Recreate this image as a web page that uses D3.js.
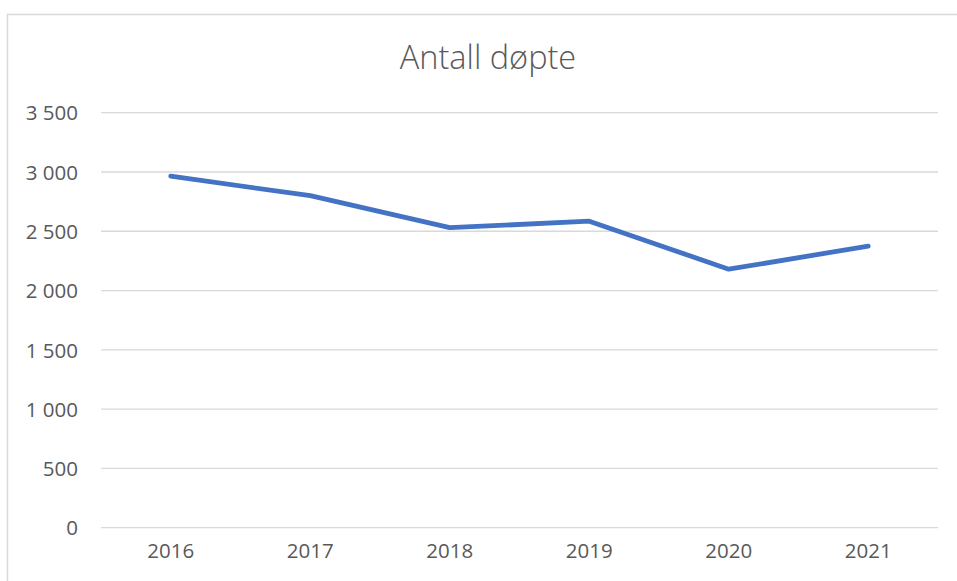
<!DOCTYPE html>
<html lang="no">
<head>
  <meta charset="UTF-8">
  <title>Antall døpte</title>
  <script src="https://d3js.org/d3.v7.min.js"></script>
  <style>
    body {
      margin: 0;
      background: #fff;
      font-family: "Open Sans", "Noto Sans", sans-serif;
    }
    .grid line {
      stroke: #d9d9d9;
      stroke-width: 1.3px;
    }
    .tick text {
      fill: #595959;
      font-size: 20.5px;
    }
  </style>
</head>
<body>
  <div id="chart"></div>
  <script>
    const years = ["2016", "2017", "2018", "2019", "2020", "2021"];
    const baptized = [2965, 2800, 2530, 2585, 2180, 2375];
    const yTicks = [0, 500, 1000, 1500, 2000, 2500, 3000, 3500];

    const width = 957, height = 581;
    const plot = { left: 101, right: 938, top: 112.7, bottom: 527.7 };

    const svg = d3.select("#chart")
      .append("svg")
      .attr("width", width)
      .attr("height", height);

    // chart frame (runs off the right and bottom edge in the original)
    svg.append("rect")
      .attr("x", 7.5)
      .attr("y", 14.5)
      .attr("width", 980)
      .attr("height", 600)
      .attr("fill", "none")
      .attr("stroke", "#d9d9d9")
      .attr("stroke-width", 1.5);

    svg.append("text")
      .attr("x", 488)
      .attr("y", 69)
      .attr("text-anchor", "middle")
      .attr("fill", "#595959")
      .attr("font-size", "32.5px")
      .attr("font-weight", 300)
      .text("Antall døpte");

    const x = d3.scaleBand()
      .domain(years)
      .range([plot.left, plot.right]);

    const y = d3.scaleLinear()
      .domain([0, 3500])
      .range([plot.bottom, plot.top]);

    // Norwegian style: space as thousands separator
    const fmt = v => d3.format(",")(v).replace(/,/g, " ");

    // horizontal gridlines
    svg.append("g")
      .attr("class", "grid")
      .selectAll("line")
      .data(yTicks)
      .enter()
      .append("line")
      .attr("x1", plot.left)
      .attr("x2", plot.right)
      .attr("y1", d => y(d))
      .attr("y2", d => y(d));

    const yAxis = svg.append("g")
      .attr("transform", `translate(${plot.left},0)`)
      .call(d3.axisLeft(y).tickValues(yTicks).tickFormat(fmt).tickSize(0).tickPadding(23))
      .attr("font-family", null)
      .attr("font-size", null);
    yAxis.select(".domain").remove();
    yAxis.selectAll(".tick text").attr("dy", "0.35em");

    const xAxis = svg.append("g")
      .attr("transform", `translate(0,${plot.bottom})`)
      .call(d3.axisBottom(x).tickSize(0).tickPadding(16))
      .attr("font-family", null)
      .attr("font-size", null);
    xAxis.select(".domain").remove();

    const line = d3.line()
      .x((d, i) => x(years[i]) + x.bandwidth() / 2)
      .y(d => y(d));

    svg.append("path")
      .datum(baptized)
      .attr("d", line)
      .attr("fill", "none")
      .attr("stroke", "#4472c4")
      .attr("stroke-width", 4.8)
      .attr("stroke-linecap", "round")
      .attr("stroke-linejoin", "round");
  </script>
</body>
</html>
